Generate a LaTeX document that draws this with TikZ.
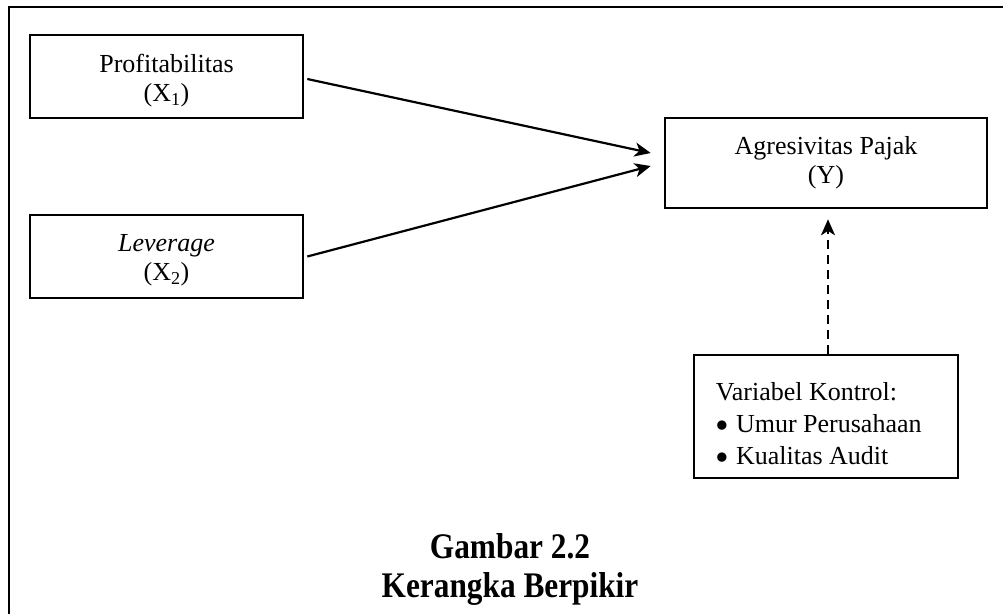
\documentclass[tikz,border=0pt]{standalone}
\usepackage{fontspec}
\setmainfont{Liberation Serif}
\usetikzlibrary{arrows.meta,calc}
\newcommand{\bigbullet}{\raisebox{-6pt}[0pt][0pt]{\scalebox{1.5}{•}}}
\begin{document}
\begin{tikzpicture}[x=1pt,y=-1pt,
  box/.style={draw,line width=2.6pt,inner sep=0pt},
  txt/.style={inner sep=0pt,align=center,font=\fontsize{26}{29}\selectfont},
  conn/.style={line width=2.2pt,-{Stealth[length=16pt,width=14pt,inset=4.5pt]}},
  dconn/.style={conn,dash pattern=on 9pt off 6pt},
  capt/.style={anchor=base,inner sep=0pt,font=\fontsize{36}{40}\selectfont\bfseries}]
\useasboundingbox (0,0) rectangle (1003,614);
\draw[line width=2.6pt] (9,614) -- (9,7) -- (1003,7);
\node[box,minimum width=273pt,minimum height=83pt] (p) at (166.5,76.5) {};
\node[box,minimum width=273pt,minimum height=83pt] (l) at (166.5,256.5) {};
\node[box,minimum width=322pt,minimum height=90pt] (a) at (826,163) {};
\node[box,minimum width=264pt,minimum height=123pt] (k) at (826,416.5) {};
\node[txt] (pt) at ([yshift=-4pt]p.center) {Profitabilitas\\(X\textsubscript{1})};
\node[txt] (lt) at ([yshift=-4pt]l.center) {\textit{Leverage}\\(X\textsubscript{2})};
\node[txt] (at) at (a.center) {Agresivitas Pajak\\(Y)};
\node[txt,anchor=west,align=left,font=\fontsize{26}{32}\selectfont] (kt) at ([xshift=23pt,yshift=-7pt]k.west) {Variabel Kontrol:\\\bigbullet\ Umur Perusahaan\\\bigbullet\ Kualitas Audit};
\draw[conn] ([xshift=3pt,yshift=-2.5pt]p.east) -- ([xshift=-13pt,yshift=10pt]a.west);
\draw[conn] ([xshift=3pt]l.east) -- ([xshift=-13pt,yshift=-3pt]a.west);
\draw[dconn] ([xshift=2pt]k.north) -- ([xshift=2pt,yshift=-10pt]a.south);
\node[capt] (g1) at (510,558) {\scalebox{0.87}[1]{Gambar 2.2}};
\node[capt] (g2) at (510,597) {\scalebox{0.87}[1]{Kerangka Berpikir}};
\end{tikzpicture}
\end{document}
